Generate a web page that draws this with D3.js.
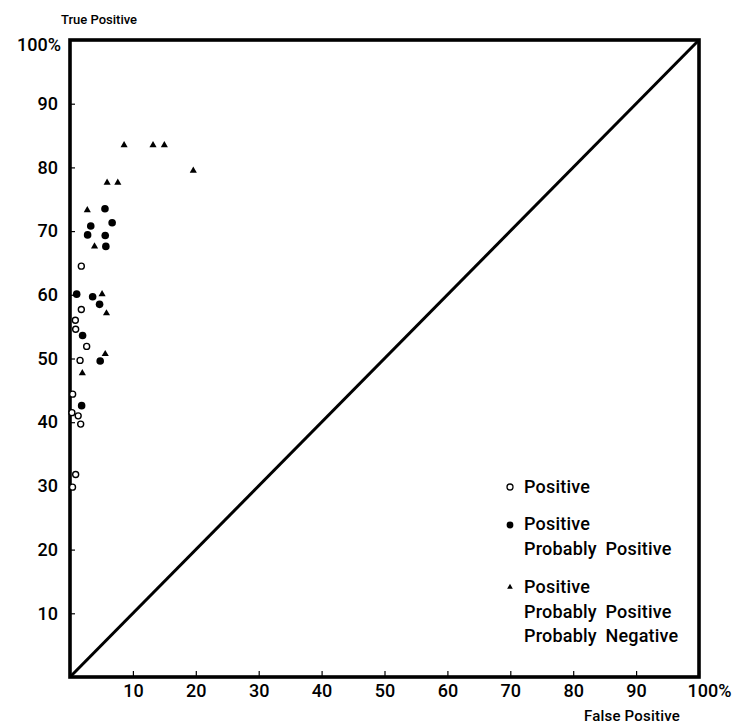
<!DOCTYPE html>
<html>
<head>
<meta charset="utf-8">
<script src="https://cdn.jsdelivr.net/npm/d3@7"></script>
<style>
  body { margin: 0; background: #fff; }
  svg text { font-family: Roboto, "Liberation Sans", Arial, sans-serif; font-weight: 500; fill: #000; }
</style>
</head>
<body>
<svg id="chart" width="739" height="725"></svg>
<script>
// false positive % / true positive % for each reading threshold
const positiveX = [1.8, 1.8, 0.85, 0.9, 2.65, 1.6, 0.42, 0.3, 1.3, 1.7, 0.9, 0.4];
const positiveY = [64.5, 57.7, 56.0, 54.6, 51.9, 49.7, 44.4, 41.5, 41.0, 39.7, 31.8, 29.8];

const probPosX = [5.56, 6.7, 3.3, 2.8, 5.6, 5.7, 1.06, 3.6, 4.7, 2.0, 4.8, 1.85];
const probPosY = [73.5, 71.3, 70.8, 69.4, 69.3, 67.6, 60.1, 59.7, 58.5, 53.6, 49.6, 42.6];

const probNegX = [8.6, 13.2, 15.0, 19.6, 5.9, 7.6, 2.75, 3.9, 5.1, 5.8, 5.6, 1.96];
const probNegY = [83.5, 83.5, 83.5, 79.5, 77.6, 77.6, 73.3, 67.6, 60.1, 57.1, 50.7, 47.7];

const tickVals = [10, 20, 30, 40, 50, 60, 70, 80, 90, 100];
const legendRows = [
  ["Positive"],
  ["Positive", "Probably Positive"],
  ["Positive", "Probably Positive", "Probably Negative"]
];

const svg = d3.select("#chart");
const x = d3.scaleLinear().domain([0, 100]).range([70, 699]);
const y = d3.scaleLinear().domain([0, 100]).range([677, 40]);

// axes: short inward ticks, no domain path
const xAxis = svg.append("g")
    .attr("transform", `translate(0,${y(0)})`)
    .call(d3.axisBottom(x).tickValues(tickVals).tickSize(-6).tickPadding(7)
      .tickFormat(d => d === 100 ? "100%" : d));
const yAxis = svg.append("g")
    .attr("transform", `translate(${x(0)},0)`)
    .call(d3.axisLeft(y).tickValues(tickVals).tickSize(-5).tickPadding(12)
      .tickFormat(d => d === 100 ? "100%" : d));

[xAxis, yAxis].forEach(g => {
  g.select(".domain").remove();
  g.selectAll(".tick line").attr("stroke", "#000").attr("stroke-width", 1.2);
  g.selectAll(".tick text").attr("font-size", 18).attr("fill", "#000");
});
xAxis.selectAll(".tick text").filter(d => d === 100)
    .attr("text-anchor", "start").attr("dx", -12);
yAxis.selectAll(".tick line").filter(d => d === 100).remove();
yAxis.selectAll(".tick text").filter(d => d === 100)
    .attr("dx", 3).attr("dy", "0.6em");

// frame and diagonal
svg.append("rect")
    .attr("x", x(0)).attr("y", y(100))
    .attr("width", x(100) - x(0)).attr("height", y(0) - y(100))
    .attr("fill", "none").attr("stroke", "#000").attr("stroke-width", 3.6);
svg.append("line")
    .attr("x1", x(0)).attr("y1", y(0)).attr("x2", x(100)).attr("y2", y(100))
    .attr("stroke", "#000").attr("stroke-width", 3);

// axis titles
svg.append("text").attr("x", 61).attr("y", 24)
    .attr("font-size", 13).text("True Positive");
svg.append("text").attr("x", 584).attr("y", 721)
    .attr("font-size", 15).attr("letter-spacing", 0.2).text("False Positive");

const tri = d3.symbol().type(d3.symbolTriangle).size(22);

// points
svg.append("g").selectAll("circle")
  .data(probPosX.map((v, i) => [v, probPosY[i]]))
  .join("circle")
    .attr("cx", d => x(d[0])).attr("cy", d => y(d[1])).attr("r", 3.8)
    .attr("fill", "#000");
svg.append("g").selectAll("circle")
  .data(positiveX.map((v, i) => [v, positiveY[i]]))
  .join("circle")
    .attr("cx", d => x(d[0])).attr("cy", d => y(d[1])).attr("r", 3)
    .attr("fill", "#fff").attr("stroke", "#000").attr("stroke-width", 1.4);
svg.append("g").selectAll("path")
  .data(probNegX.map((v, i) => [v, probNegY[i]]))
  .join("path")
    .attr("transform", d => `translate(${x(d[0])},${y(d[1])})`)
    .attr("d", tri).attr("fill", "#000");

// legend
const legendY = [493, 530, 593];
const legend = svg.append("g");
legendRows.forEach((lines, i) => {
  const g = legend.append("g").attr("transform", `translate(510,${legendY[i]})`);
  if (i === 0) g.append("circle").attr("cy", -6).attr("r", 3)
      .attr("fill", "#fff").attr("stroke", "#000").attr("stroke-width", 1.3);
  if (i === 1) g.append("circle").attr("cy", -5).attr("r", 3.4).attr("fill", "#000");
  if (i === 2) g.append("path").attr("transform", "translate(0,-6)")
      .attr("d", d3.symbol().type(d3.symbolTriangle).size(14)).attr("fill", "#000");
  lines.forEach((t, j) => {
    g.append("text").attr("x", 14).attr("y", j * 24.5)
      .attr("font-size", 18).attr("letter-spacing", 0.2).attr("word-spacing", 4)
      .text(t);
  });
});
</script>
</body>
</html>
